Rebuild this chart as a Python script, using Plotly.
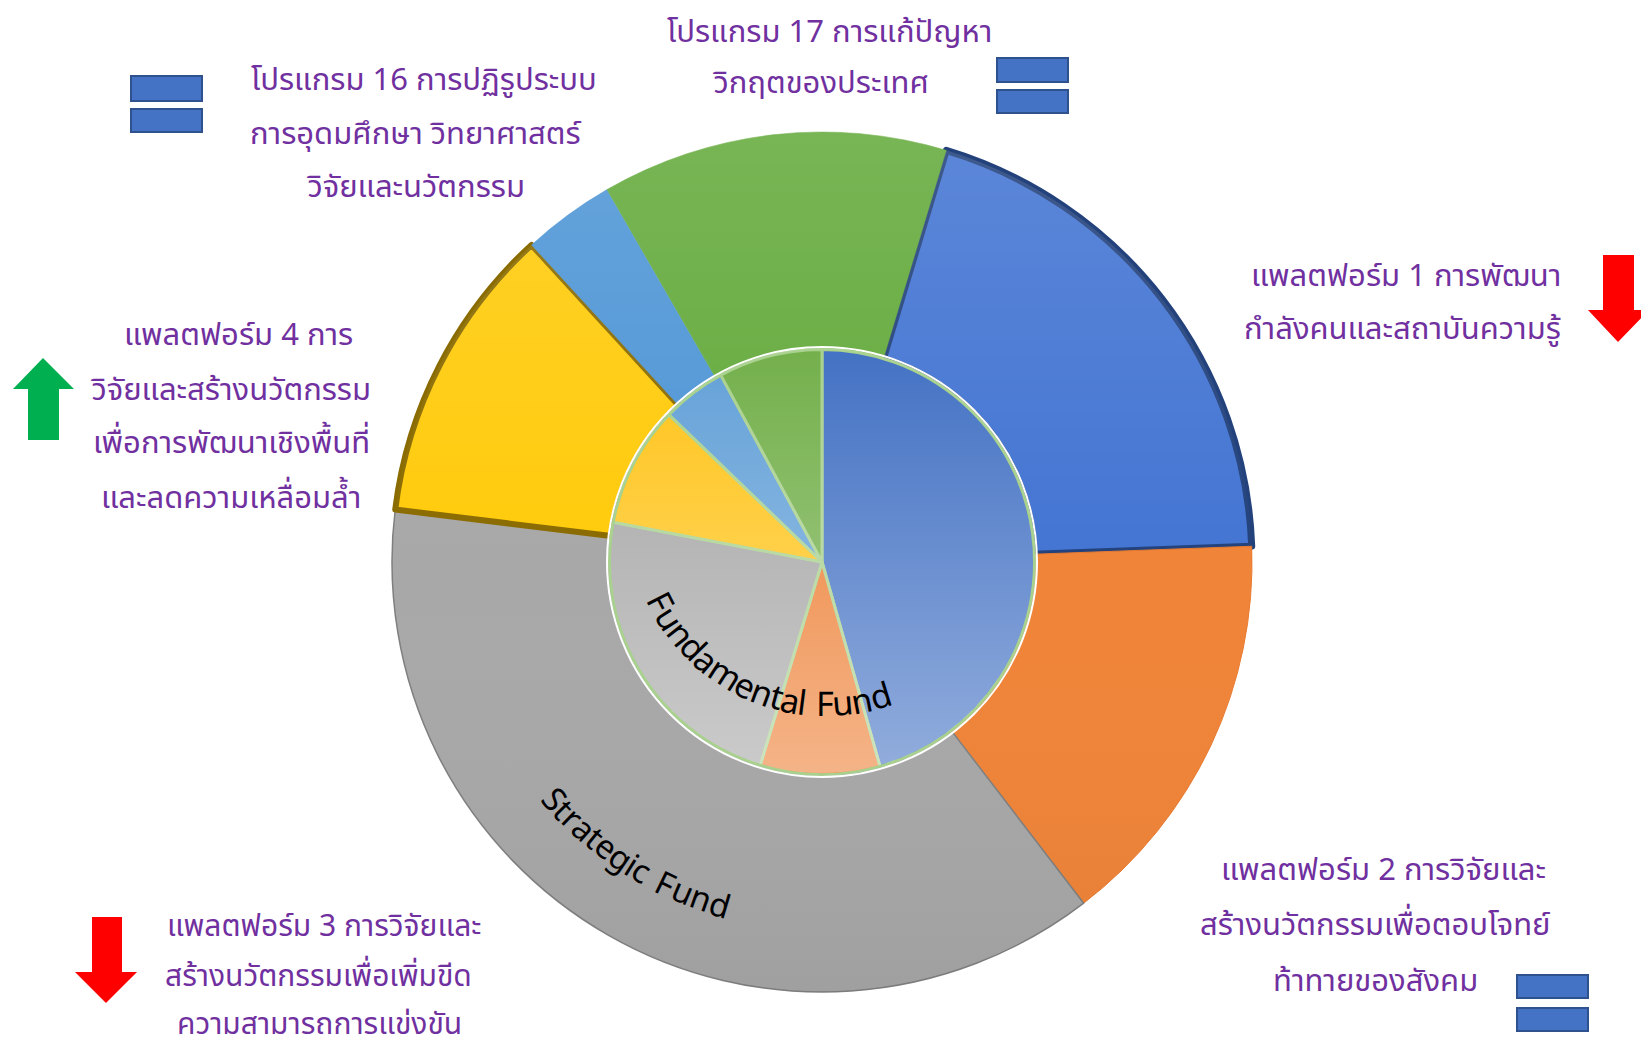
import math
import base64
import plotly.graph_objects as go

# ---------------- data ----------------
segments = ["แพลตฟอร์ม 1", "แพลตฟอร์ม 2", "แพลตฟอร์ม 3",
            "แพลตฟอร์ม 4", "โปรแกรม 16", "โปรแกรม 17"]
strategic_values = [19.75, 15.17, 37.36, 11.25, 3.47, 13.0]
fundamental_values = [45.6, 9.1, 23.3, 9.2, 4.9, 7.9]

outer_colors = ["#4475D3", "#F08438", "#A8A8A8", "#FFCB0C", "#4F96D6", "#64AA3C"]
outer_line_colors = ["#23427C", "#E87A30", "#7F7F7F", "#8A6B00", "#4F96D6", "#64AA3C"]
outer_line_widths = [7, 1, 1.5, 6, 0.5, 0.5]
inner_colors = ["#4472C4", "#ED7D31", "#A5A5A5", "#FFC41A", "#64A1D8", "#74B04C"]

label_p1 = ["แพลตฟอร์ม 1 การพัฒนา", "กำลังคนและสถาบันความรู้"]
label_p2 = ["แพลตฟอร์ม 2 การวิจัยและ", "สร้างนวัตกรรมเพื่อตอบโจทย์", "ท้าทายของสังคม"]
label_p3 = ["แพลตฟอร์ม 3 การวิจัยและ", "สร้างนวัตกรรมเพื่อเพิ่มขีด", "ความสามารถการแข่งขัน"]
label_p4 = ["แพลตฟอร์ม 4 การ", "วิจัยและสร้างนวัตกรรม", "เพื่อการพัฒนาเชิงพื้นที่", "และลดความเหลื่อมล้ำ"]
label_g16 = ["โปรแกรม 16 การปฏิรูประบบ", "การอุดมศึกษา วิทยาศาสตร์", "วิจัยและนวัตกรรม"]
label_g17 = ["โปรแกรม 17 การแก้ปัญหา", "วิกฤตของประเทศ"]
inner_title = "Fundamental Fund"
outer_title = "Strategic Fund"

# ---------------- geometry helpers ----------------
W, H = 1633, 1040
OX, OY = 8, 8


def px(X):
    return (X - OX) / W


def py(Y):
    return 1 - (Y - OY) / H


CX, CY = 822, 562
R_OUT, R_IN = 430, 212.5

fig = go.Figure()
fig.add_trace(go.Pie(
    labels=segments, values=strategic_values, sort=False, direction="clockwise",
    rotation=16.8, hole=R_IN / R_OUT, textinfo="none", hoverinfo="label+value",
    marker=dict(colors=outer_colors, line=dict(color=outer_line_colors, width=outer_line_widths)),
    domain=dict(x=[px(CX - R_OUT), px(CX + R_OUT)], y=[py(CY + R_OUT), py(CY - R_OUT)]),
    showlegend=False,
))
fig.add_trace(go.Pie(
    labels=segments, values=fundamental_values, sort=False, direction="clockwise",
    rotation=0, textinfo="none", hoverinfo="label+value",
    marker=dict(colors=inner_colors, line=dict(color="#A9D18E", width=3)),
    domain=dict(x=[px(CX - R_IN), px(CX + R_IN)], y=[py(CY + R_IN), py(CY - R_IN)]),
    showlegend=False,
))


def svg_uri(svg):
    return "data:image/svg+xml;base64," + base64.b64encode(svg.encode()).decode()


# soft lighting gradients (visual effect only)
d_in = 2 * R_IN
svg_in = (f'<svg xmlns="http://www.w3.org/2000/svg" width="{d_in}" height="{d_in}">'
          '<defs><linearGradient id="g" x1="0" y1="0" x2="0" y2="1">'
          '<stop offset="0" stop-color="#ffffff" stop-opacity="0"/>'
          '<stop offset="1" stop-color="#ffffff" stop-opacity="0.42"/>'
          '</linearGradient></defs>'
          f'<circle cx="{R_IN}" cy="{R_IN}" r="{R_IN - 1.5}" fill="url(#g)"/></svg>')
d_out = 2 * R_OUT
rm = (R_OUT + R_IN) / 2
svg_out = (f'<svg xmlns="http://www.w3.org/2000/svg" width="{d_out}" height="{d_out}">'
           f'<defs><linearGradient id="h" gradientUnits="userSpaceOnUse" x1="0" y1="0" x2="0" y2="{d_out}">'
           '<stop offset="0" stop-color="#ffffff" stop-opacity="0.13"/>'
           '<stop offset="0.5" stop-color="#ffffff" stop-opacity="0"/>'
           '<stop offset="1" stop-color="#000000" stop-opacity="0.05"/>'
           '</linearGradient></defs>'
           f'<circle cx="{R_OUT}" cy="{R_OUT}" r="{rm}" fill="none" stroke="url(#h)" '
           f'stroke-width="{R_OUT - R_IN}"/></svg>')
images = [
    dict(source=svg_uri(svg_out), xref="paper", yref="paper", x=px(CX - R_OUT), y=py(CY - R_OUT),
         sizex=d_out / W, sizey=d_out / H, sizing="stretch",
         xanchor="left", yanchor="top", layer="above"),
    dict(source=svg_uri(svg_in), xref="paper", yref="paper", x=px(CX - R_IN), y=py(CY - R_IN),
         sizex=d_in / W, sizey=d_in / H, sizing="stretch",
         xanchor="left", yanchor="top", layer="above"),
]

THAI = "Noto Sans Thai, Noto Sans Thai Looped, Loma, Garuda, Sarabun, Tahoma, sans-serif"
PURPLE = "#7030A0"
annotations = []


def add_lines(lines, xs, ys, size=31):
    for t, x, y in zip(lines, xs, ys):
        annotations.append(dict(x=px(x), y=py(y), xref="paper", yref="paper", text=t,
                                showarrow=False, xanchor="center", yanchor="middle",
                                font=dict(family=THAI, size=size, color=PURPLE)))


add_lines(label_g16, [424, 416, 416], [81, 134, 187])
add_lines(label_g17, [829, 821], [32, 84])
add_lines(label_p1, [1406, 1402], [277, 329])
add_lines(label_p4, [238, 231, 231, 231], [335, 390, 443, 498])
add_lines(label_p2, [1383, 1375, 1375], [870, 925, 981])
add_lines(label_p3, [324, 318, 319], [927, 977, 1025], size=30)

WID = {"F": .539, "u": .614, "n": .614, "d": .613, "a": .556, "m": .93, "e": .561,
       "t": .349, "l": .253, " ": .32, "S": .542, "r": .408, "g": .548, "i": .253, "c": .476}


def arc_text(text, cx, cy, r, th0, th1, size):
    w = [WID.get(c, .55) for c in text]
    centers, s = [], 0
    for wi in w:
        centers.append(s + wi / 2)
        s += wi
    span = centers[-1] - centers[0]
    for c, pos in zip(text, centers):
        if c == " ":
            continue
        t = math.radians(th0 + (th1 - th0) * (pos - centers[0]) / span)
        X = cx + r * math.cos(t)
        Y = cy - r * math.sin(t)
        ang = math.degrees(math.atan2(-math.cos(t), -math.sin(t)))
        annotations.append(dict(x=px(X), y=py(Y), xref="paper", yref="paper", text=c,
                                textangle=ang, showarrow=False, xanchor="center",
                                yanchor="middle",
                                font=dict(family="Noto Sans, Open Sans, sans-serif",
                                          size=size, color="#000000")))


arc_text(inner_title, 826, 518, 185, 207.0, 287, 34)
arc_text(outer_title, CX, CY, 357, 221.5, 253.4, 33)

# ---------------- decorative shapes ----------------
shapes = [dict(type="circle", xref="paper", yref="paper",
               x0=px(CX - R_IN - 2.5), x1=px(CX + R_IN + 2.5),
               y0=py(CY + R_IN + 2.5), y1=py(CY - R_IN - 2.5),
               line=dict(color="#FFFFFF", width=2), fillcolor="rgba(0,0,0,0)")]


def equals(x0, x1, ya, yb, yc, yd):
    for y0, y1 in ((ya, yb), (yc, yd)):
        shapes.append(dict(type="rect", xref="paper", yref="paper",
                           x0=px(x0), x1=px(x1), y0=py(y1), y1=py(y0),
                           fillcolor="#4472C4", line=dict(color="#2F528F", width=2)))


equals(131, 202, 76, 101, 109, 132)
equals(997, 1068, 58, 82, 90, 113)
equals(1517, 1588, 975, 998, 1008, 1031)


def arrow(pts, color):
    path = "M " + " L ".join(f"{px(x):.5f},{py(y):.5f}" for x, y in pts) + " Z"
    shapes.append(dict(type="path", xref="paper", yref="paper", path=path,
                       fillcolor=color, line=dict(width=0)))


# down arrows
arrow([(1603, 255), (1634, 255), (1634, 310), (1649, 310), (1618, 342),
       (1588, 310), (1603, 310)], "#FF0000")
arrow([(92, 917), (122, 917), (122, 972), (137, 972), (106, 1003),
       (75, 972), (92, 972)], "#FF0000")
# up arrow
arrow([(28, 440), (59, 440), (59, 389), (74, 389), (43, 358),
       (13, 389), (28, 389)], "#00B050")

fig.update_layout(
    width=W, height=H, margin=dict(l=0, r=0, t=0, b=0),
    paper_bgcolor="white", plot_bgcolor="white",
    annotations=annotations, shapes=shapes, images=images,
)
fig.write_html("out.html")
